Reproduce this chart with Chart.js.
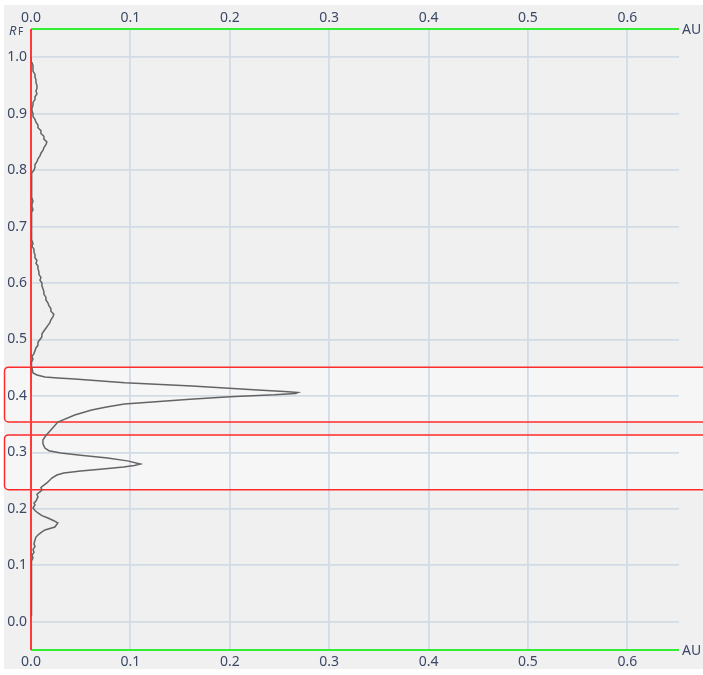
<!DOCTYPE html>
<html>
<head>
<meta charset="utf-8">
<script src="https://cdn.jsdelivr.net/npm/chart.js@4.4.1/dist/chart.umd.min.js"></script>
<style>
  html, body { margin: 0; padding: 0; background: #ffffff; }
  #wrap { width: 703px; height: 675px; }
</style>
</head>
<body>
<div id="wrap"><canvas id="c" width="703" height="675"></canvas></div>
<script>
// Densitogram: retention factor (Rf) along the plate vs. signal intensity (AU)
const rfValues = [
  0.012, 0.018, 0.024, 0.030, 0.036, 0.042, 0.048, 0.054, 0.060, 0.066,
  0.072, 0.078, 0.084, 0.090, 0.096, 0.102, 0.108, 0.113, 0.118, 0.123,
  0.128, 0.133, 0.138, 0.1449, 0.150, 0.1538, 0.158, 0.1626, 0.1679, 0.1750,
  0.179, 0.1839, 0.188, 0.1927, 0.197, 0.2016, 0.2069, 0.210, 0.214, 0.2211,
  0.226, 0.230, 0.2335, 0.238, 0.242, 0.2459, 0.2510, 0.2547, 0.2600, 0.2636,
  0.2671, 0.2710, 0.2742, 0.2770, 0.2795, 0.2850, 0.2901, 0.2950, 0.2990, 0.3030,
  0.3078, 0.3150, 0.3220, 0.3300, 0.3397, 0.3538, 0.3662, 0.3751, 0.3804, 0.3857,
  0.3893, 0.3940, 0.3987, 0.4020, 0.4045, 0.4061, 0.4080, 0.4105, 0.4176, 0.4235,
  0.4301, 0.4318, 0.4336, 0.4371, 0.4406, 0.4495, 0.455, 0.460, 0.465, 0.470,
  0.475, 0.480, 0.485, 0.490,
  0.495, 0.500, 0.505, 0.510, 0.515, 0.520, 0.525, 0.530, 0.535, 0.540,
  0.545, 0.550, 0.555, 0.560, 0.565, 0.570, 0.575, 0.580, 0.585, 0.590,
  0.595, 0.600, 0.605, 0.610, 0.615, 0.620, 0.625, 0.630, 0.635, 0.640,
  0.645, 0.650, 0.655, 0.660, 0.665, 0.670, 0.675, 0.680, 0.685, 0.690,
  0.695, 0.700, 0.705, 0.710, 0.715, 0.720, 0.725, 0.730, 0.735, 0.740,
  0.745, 0.750, 0.755, 0.760, 0.765, 0.770, 0.775, 0.780, 0.785, 0.790,
  0.795, 0.800, 0.805, 0.810, 0.815, 0.820, 0.825, 0.830, 0.835, 0.840,
  0.845, 0.850, 0.855, 0.860, 0.865, 0.870, 0.875, 0.880, 0.885, 0.890,
  0.895, 0.900, 0.905, 0.910, 0.915, 0.920, 0.925, 0.930, 0.935, 0.940,
  0.945, 0.950, 0.955, 0.960, 0.965, 0.970, 0.975, 0.980, 0.985, 0.990,
  0.995, 1.000
];
const auValues = [
  0.000, 0.001, 0.000, 0.001, 0.000, 0.001, 0.000, 0.001, 0.000, 0.001,
  0.000, 0.001, 0.000, 0.001, 0.000, 0.001, 0.000, 0.002, 0.001, 0.003,
  0.002, 0.004, 0.003, 0.004, 0.005, 0.007, 0.010, 0.014, 0.024, 0.027,
  0.023, 0.017, 0.011, 0.007, 0.004, 0.002, 0.004, 0.003, 0.005, 0.007,
  0.006, 0.009, 0.011, 0.010, 0.013, 0.016, 0.019, 0.021, 0.026, 0.033,
  0.050, 0.075, 0.093, 0.104, 0.110, 0.097, 0.077, 0.050, 0.030, 0.018,
  0.014, 0.012, 0.012, 0.015, 0.020, 0.027, 0.044, 0.061, 0.076, 0.094,
  0.122, 0.160, 0.200, 0.245, 0.266, 0.2685, 0.255, 0.228, 0.162, 0.0945,
  0.044, 0.027, 0.014, 0.006, 0.002, 0.001, 0.000, 0.001, 0.002, 0.001,
  0.003, 0.004, 0.005, 0.007,
  0.007, 0.009, 0.011, 0.011, 0.013, 0.015, 0.017, 0.019, 0.020, 0.022,
  0.023, 0.020, 0.020, 0.018, 0.017, 0.015, 0.015, 0.013, 0.013, 0.012,
  0.011, 0.011, 0.009, 0.010, 0.008, 0.008, 0.007, 0.007, 0.005, 0.006,
  0.004, 0.004, 0.003, 0.003, 0.001, 0.002, 0.001, 0.001, 0.000, 0.001,
  0.000, 0.001, 0.000, 0.001, 0.001, 0.000, 0.001, 0.002, 0.001, 0.001,
  0.002, 0.001, 0.000, 0.001, 0.001, 0.000, 0.001, 0.000, 0.001, 0.001,
  0.001, 0.003, 0.004, 0.004, 0.006, 0.007, 0.009, 0.010, 0.012, 0.013,
  0.015, 0.016, 0.013, 0.013, 0.010, 0.010, 0.007, 0.007, 0.005, 0.004,
  0.002, 0.002, 0.001, 0.001, 0.002, 0.002, 0.004, 0.004, 0.006, 0.005,
  0.006, 0.006, 0.005, 0.005, 0.004, 0.004, 0.002, 0.002, 0.002, 0.001,
  0.000, 0.000
];
// Integration bands (Rf from, Rf to)
const bandRanges = [
  [0.354, 0.451],
  [0.234, 0.331]
];
const rfTicks = [0.0, 0.1, 0.2, 0.3, 0.4, 0.5, 0.6, 0.7, 0.8, 0.9, 1.0];
const auTicks = [0.0, 0.1, 0.2, 0.3, 0.4, 0.5, 0.6];
const rfRange = [-0.05, 1.05];
const auRange = [0, 0.652];

const FONT = '"Noto Sans", "Open Sans", sans-serif';
const TEXT = '#3b4866';
const GRID = '#d3dbe4';

const setTicks = vals => scale => { scale.ticks = vals.map(v => ({ value: v })); };

const plotDecor = {
  id: 'plotDecor',
  beforeDraw(chart) {
    const { ctx, width, height } = chart;
    const y = chart.scales.y;
    ctx.save();
    ctx.fillStyle = '#ffffff';
    ctx.fillRect(0, 0, width, height);
    ctx.fillStyle = '#f0f0f0';
    ctx.fillRect(4, 5, width - 4, 664);
    // band fills
    ctx.fillStyle = '#f6f6f6';
    bandRanges.forEach(([lo, hi]) => {
      const top = y.getPixelForValue(hi), bot = y.getPixelForValue(lo);
      ctx.beginPath();
      ctx.roundRect(4.5, top, width + 10, bot - top, 4);
      ctx.fill();
    });
    ctx.restore();
  },
  beforeDatasetsDraw(chart) {
    const { ctx, width, chartArea: a } = chart;
    const y = chart.scales.y, x = chart.scales.x;
    ctx.save();
    // band outlines
    ctx.strokeStyle = '#ff2b2b';
    ctx.lineWidth = 1.5;
    bandRanges.forEach(([lo, hi]) => {
      const top = y.getPixelForValue(hi), bot = y.getPixelForValue(lo);
      ctx.beginPath();
      ctx.roundRect(4.5, top, width + 10, bot - top, 4);
      ctx.stroke();
    });
    // axis lines
    const x0 = x.getPixelForValue(0);
    ctx.strokeStyle = '#33ee33';
    ctx.lineWidth = 2;
    ctx.beginPath();
    ctx.moveTo(x0, a.top); ctx.lineTo(a.right, a.top);
    ctx.moveTo(x0, a.bottom); ctx.lineTo(a.right, a.bottom);
    ctx.stroke();
    ctx.strokeStyle = '#ff3a3a';
    ctx.beginPath();
    ctx.moveTo(x0, a.top); ctx.lineTo(x0, a.bottom);
    ctx.stroke();
    ctx.restore();
  },
  afterDraw(chart) {
    const { ctx, chartArea: a } = chart;
    ctx.save();
    ctx.fillStyle = TEXT;
    ctx.textBaseline = 'middle';
    ctx.textAlign = 'left';
    ctx.font = '14px ' + FONT;
    ctx.fillText('AU', a.right + 3, a.top + 1);
    ctx.fillText('AU', a.right + 3, a.bottom + 1);
    // axis title R with small-cap F
    ctx.textBaseline = 'alphabetic';
    ctx.font = 'italic 13px ' + FONT;
    ctx.fillText('R', 9, 35);
    ctx.font = '10px ' + FONT;
    ctx.fillText('F', 18, 35);
    ctx.restore();
  }
};

new Chart(document.getElementById('c'), {
  type: 'scatter',
  data: {
    datasets: [{
      data: rfValues.map((rf, i) => ({ x: auValues[i], y: rf })),
      showLine: true,
      borderColor: '#646464',
      borderWidth: 1.5,
      pointRadius: 0,
      tension: 0,
      fill: false
    }]
  },
  options: {
    responsive: false,
    animation: false,
    events: [],
    layout: { padding: { left: 0, right: 24, top: 0, bottom: 0 } },
    plugins: { legend: { display: false }, tooltip: { enabled: false } },
    scales: {
      x: {
        type: 'linear', position: 'bottom',
        min: auRange[0], max: auRange[1],
        afterBuildTicks: setTicks(auTicks),
        afterFit: s => { s.height = 25; },
        grid: { color: GRID, lineWidth: 1.8, drawTicks: false },
        border: { display: false },
        ticks: { padding: 4, color: TEXT, font: { family: FONT, size: 14 }, maxRotation: 0,
                 callback: v => Number(v).toFixed(1) }
      },
      x2: {
        type: 'linear', position: 'top',
        min: auRange[0], max: auRange[1],
        afterBuildTicks: setTicks(auTicks),
        afterFit: s => { s.height = 29; },
        grid: { display: false, drawTicks: false },
        border: { display: false },
        ticks: { padding: 3, color: TEXT, font: { family: FONT, size: 14 }, maxRotation: 0,
                 callback: v => Number(v).toFixed(1) }
      },
      y: {
        type: 'linear', position: 'left',
        min: rfRange[0], max: rfRange[1],
        afterBuildTicks: setTicks(rfTicks),
        afterFit: s => { s.width = 31; },
        grid: { color: GRID, lineWidth: 1.8, drawTicks: false },
        border: { display: false },
        ticks: { padding: 4, color: TEXT, font: { family: FONT, size: 14 },
                 callback: v => Number(v).toFixed(1) }
      }
    }
  },
  plugins: [plotDecor]
});
</script>
</body>
</html>
